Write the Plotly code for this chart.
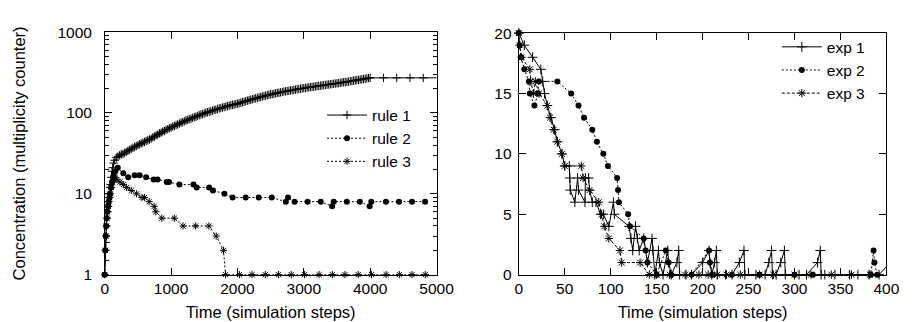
import plotly.graph_objects as go

# ---------------- Left panel data (log scale) ----------------
rule1_t = [0, 5, 10, 15, 20, 25, 30, 40, 50, 60, 70, 80, 90, 100, 110, 120, 135, 150, 175,
           200, 225, 250, 275, 300, 325, 350, 375, 400, 425, 450, 475, 500, 525, 550, 575,
           600, 625, 650, 675, 700, 725, 750, 775, 800, 825, 850, 875, 900, 925, 950, 975,
           1000, 1025, 1050, 1075, 1100, 1125, 1150, 1175, 1200, 1225, 1250, 1275, 1300, 1325,
           1350, 1375, 1400, 1425, 1450, 1475, 1500, 1525, 1550, 1575, 1600, 1625, 1650, 1675,
           1700, 1725, 1750, 1775, 1800, 1825, 1850, 1875, 1900, 1925, 1950, 1975, 2000, 2025,
           2050, 2075, 2100, 2125, 2150, 2175, 2200, 2225, 2250, 2275, 2300, 2325, 2350, 2375,
           2400, 2425, 2450, 2475, 2500, 2525, 2550, 2575, 2600, 2625, 2650, 2675, 2700, 2725,
           2750, 2775, 2800, 2825, 2850, 2875, 2900, 2925, 2950, 2975, 3000, 3025, 3050, 3075,
           3100, 3125, 3150, 3175, 3200, 3225, 3250, 3275, 3300, 3325, 3350, 3375, 3400, 3425,
           3450, 3475, 3500, 3525, 3550, 3575, 3600, 3625, 3650, 3675, 3700, 3725, 3750, 3775,
           3800, 3825, 3850, 3875, 3900, 3925, 3950, 3975, 4000, 4200, 4400, 4600, 4800, 5200]
rule1_v = [1, 1.5, 2, 2.5, 3, 4, 5, 6, 7, 9, 10, 12, 13, 16, 19, 21, 24, 26, 28,
           29, 30, 31, 31, 32, 33, 34, 35, 36, 37, 38, 39, 40, 41, 42, 43,
           44, 45, 46, 47, 48, 50, 51, 53, 54, 56, 57, 59, 60, 62, 63, 65,
           66, 68, 69, 71, 72, 74, 76, 77, 79, 81, 82, 84, 85, 87,
           89, 90, 92, 94, 96, 97, 99, 101, 102, 104, 105, 107, 109, 110,
           112, 114, 115, 117, 118, 120, 122, 123, 125, 126, 127, 129, 130, 132,
           134, 136, 138, 140, 142, 144, 146, 148, 150, 152, 154, 156, 158, 160,
           162, 164, 166, 168, 170, 171, 173, 175, 177, 178, 180, 182, 184, 185,
           187, 188, 190, 191, 193, 195, 197, 198, 200, 201, 203, 204, 206, 207,
           209, 210, 212, 213, 215, 216, 218, 219, 221, 222, 224, 225, 227, 228,
           230, 231, 233, 234, 236, 238, 240, 241, 243, 245, 247, 249, 251, 253,
           255, 257, 259, 261, 263, 265, 268, 270, 272, 272, 272, 272, 272, 272]

rule2_t = [0, 8, 15, 22, 30, 40, 50, 60, 70, 80, 95, 110, 125, 140, 160, 197, 280, 354, 452, 526,
           624, 737, 796, 934, 969, 1126, 1337, 1386, 1573, 1632, 1804, 1927, 2124, 2321, 2517,
           2729, 2763, 2861, 3058, 3255, 3427, 3451, 3648, 3845, 3992, 4017, 4238, 4435, 4631, 4828]
rule2_v = [1, 2, 3, 4, 5, 6, 7, 8, 9, 10, 12, 14, 16, 18, 19, 21, 18, 16, 17, 17,
           16, 15, 15, 14, 14, 13, 13, 12, 12, 11, 10, 9, 9, 9, 9,
           8, 9, 8, 8, 8, 7, 8, 8, 8, 7, 8, 8, 8, 8, 8]

rule3_t = [0, 10, 18, 25, 35, 45, 55, 65, 75, 85, 100, 120, 140, 158, 182, 230, 280, 330, 400,
           480, 560, 600, 670, 745, 770, 860, 1050, 1180, 1370, 1570, 1680, 1790, 1820, 2030,
           2220, 2420, 2620, 2810, 3010, 3230, 3430, 3620, 3820, 4020, 4240, 4440, 4630, 4830]
rule3_v = [1, 2, 3, 4, 5, 6, 7, 8, 9, 10, 12, 14, 15, 16, 15, 14, 13, 12, 11,
           10, 9, 9, 8, 7, 6, 5, 5, 4, 4, 4, 3, 2, 1, 1,
           1, 1, 1, 1, 1, 1, 1, 1, 1, 1, 1, 1, 1, 1]

left_ytick_vals = [1, 10, 100, 1000]
left_xtick_vals = [0, 1000, 2000, 3000, 4000, 5000]

# ---------------- Right panel data ----------------
exp1_t = [0, 6, 15, 24, 26, 28, 31, 35, 39, 42, 47, 50, 55, 55.5, 56, 61, 64, 65, 72, 72.5, 76, 77,
          80, 84, 89, 92, 98, 103, 104, 120, 122, 124, 127, 129, 131, 136, 140, 145, 146, 148,
          152, 153, 157, 162, 163, 166, 172, 174, 175, 182, 188, 200, 207, 208, 210, 213, 215,
          216, 225, 232, 240, 245, 246, 258, 268, 272, 275, 276, 280, 285, 289, 290, 300, 305,
          313, 325, 328, 329, 333, 344, 360, 369, 381, 392, 404]
exp1_v = [20, 19, 18, 17, 16, 15, 14, 13, 12, 11, 10, 9, 9, 8, 7, 6, 8, 7, 6, 8, 8, 7,
          6, 6, 5, 5, 4, 6, 5, 4, 3, 2, 4, 3, 2, 3, 1, 3, 2, 0,
          2, 1, 0, 2, 1, 0, 1, 2, 0, 0, 0, 1, 2, 1, 0, 1, 2,
          0, 0, 0, 1, 2, 0, 0, 0, 1, 2, 0, 0, 1, 2, 0, 0, 0,
          0, 1, 2, 0, 0, 0, 0, 0, 0, 0, 1]

exp2_t = [0, 1, 2.5, 6, 11, 12, 17, 21, 22, 42, 57, 65, 71, 80, 85, 92, 97, 107, 108, 109,
          119, 121, 136, 138, 140, 150, 160, 163, 166, 188, 207, 208, 211, 232, 262, 300,
          320, 383, 386, 387, 390]
exp2_v = [20, 19, 18, 17, 16, 15, 14, 15, 16, 16, 15, 14, 13, 12, 11, 10, 9, 8, 7, 6,
          5, 4, 3, 2, 1, 0, 2, 1, 0, 0, 2, 1, 0, 0, 0, 0,
          0, 0, 2, 1, 0]

exp3_t = [0, 1, 3, 12, 13, 16, 18, 22, 31, 34, 38, 42, 47, 50, 68, 70, 77, 87, 90, 93, 98,
          110, 112, 132, 142, 150, 164, 181, 196, 206, 216, 226, 241, 262, 277, 300, 318,
          340, 362, 382]
exp3_v = [20, 19, 18, 17, 16, 15, 16, 15, 14, 13, 12, 11, 10, 9, 9, 8, 7, 6, 5, 4, 3,
          2, 1, 1, 0, 0, 0, 0, 0, 0, 0, 0, 0, 0, 0, 0, 0,
          0, 0, 0]

right_xtick_vals = [0, 50, 100, 150, 200, 250, 300, 350, 400]
right_ytick_vals = [0, 5, 10, 15, 20]

FONT = "Liberation Sans, Arial, Helvetica, sans-serif"
BLACK = "#000000"
PAD2 = "\u00a0\u00a0"   # keeps y tick labels clear of the axis (gnuplot style)
PAD1 = "\u2009"

fig = go.Figure()

def add(x, y, name, symbol, size, dash, xa, ya, legend, clip=False, mlw=1):
    fig.add_trace(go.Scatter(
        x=x, y=y, name=name, mode="lines+markers",
        line=dict(color=BLACK, width=1, dash=dash),
        marker=dict(symbol=symbol, size=size, color=BLACK,
                    line=dict(color=BLACK, width=mlw)),
        xaxis=xa, yaxis=ya, legend=legend, cliponaxis=clip,
    ))

add(rule1_t, rule1_v, "rule 1", "cross-thin-open", 6, "solid", "x", "y", "legend", clip=True)
add(rule2_t, rule2_v, "rule 2", "circle", 6, "2px,2px", "x", "y", "legend", mlw=0)
add(rule3_t, rule3_v, "rule 3", "asterisk-open", 6, "2px,2px", "x", "y", "legend")

add(exp1_t, exp1_v, "exp 1", "cross-thin-open", 7, "solid", "x2", "y2", "legend2")
add(exp2_t, exp2_v, "exp 2", "circle", 6, "2px,2px", "x2", "y2", "legend2", mlw=0)
add(exp3_t, exp3_v, "exp 3", "asterisk-open", 7, "3px,2px", "x2", "y2", "legend2")

W, H = 913, 322
def px_x(p):
    return p / W
def px_y(p):
    return 1 - p / H

axis_common = dict(
    showline=True, linecolor=BLACK, linewidth=1, mirror="ticks",
    ticks="inside", ticklen=7, tickcolor=BLACK, tickwidth=1,
    showgrid=False, zeroline=False,
    tickfont=dict(family=FONT, size=15.5, color=BLACK),
    title_font=dict(family=FONT, size=16.5, color=BLACK),
)

minor_vals = [m * 10 ** e for e in range(0, 3) for m in range(2, 10)]

fig.update_layout(
    width=W, height=H, autosize=False,
    margin=dict(l=0, r=0, t=0, b=0),
    paper_bgcolor="white", plot_bgcolor="white",
    font=dict(family=FONT, size=16, color=BLACK),
    xaxis=dict(domain=[px_x(95), px_x(435)], range=[0, 5000], tickmode="array",
               tickvals=left_xtick_vals, anchor="y",
               title=dict(text="Time (simulation steps)", standoff=10), **axis_common),
    yaxis=dict(domain=[px_y(272), px_y(16)], type="log", range=[0, 3], tickmode="array",
               tickvals=left_ytick_vals, ticktext=[str(v) + PAD2 for v in left_ytick_vals],
               anchor="x",
               minor=dict(tickmode="array", tickvals=minor_vals, ticks="inside", ticklen=4,
                          tickcolor=BLACK, showgrid=False),
               title=dict(text="Concentration (multiplicity counter)", standoff=27),
               **axis_common),
    xaxis2=dict(domain=[px_x(519.3), px_x(896)], range=[0, 400], tickmode="array",
                tickvals=right_xtick_vals, anchor="y2",
                title=dict(text="Time (simulation steps)", standoff=10), **axis_common),
    yaxis2=dict(domain=[px_y(272), px_y(17)], range=[0, 20], tickmode="array",
                tickvals=right_ytick_vals, ticktext=[str(v) + PAD1 for v in right_ytick_vals],
                anchor="x2", **axis_common),
    legend=dict(x=px_x(414), xanchor="right", y=px_y(86), yanchor="top",
                bgcolor="rgba(0,0,0,0)", font=dict(family=FONT, size=15.5, color=BLACK),
                tracegroupgap=0, itemwidth=40),
    legend2=dict(x=px_x(879), xanchor="right", y=px_y(14), yanchor="top",
                 bgcolor="rgba(0,0,0,0)", font=dict(family=FONT, size=15.5, color=BLACK),
                 tracegroupgap=0, itemwidth=40),
    showlegend=True,
)

fig.write_html("out.html")
